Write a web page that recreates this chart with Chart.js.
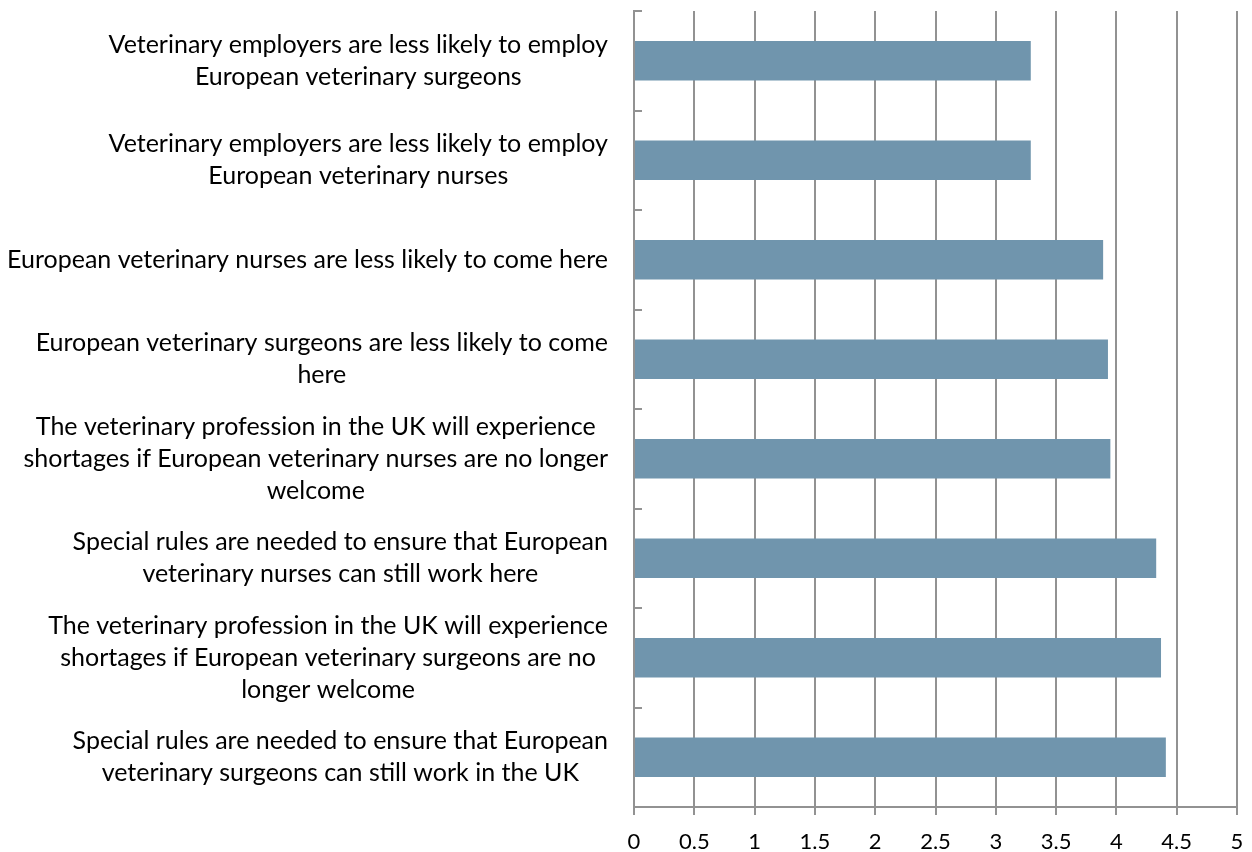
<!DOCTYPE html>
<html>
<head>
<meta charset="utf-8">
<script src="https://cdn.jsdelivr.net/npm/chart.js@4/dist/chart.umd.min.js"></script>
<style>
  html, body { margin: 0; padding: 0; background: #ffffff; }
  #wrap { width: 1252px; height: 852px; }
</style>
</head>
<body>
<div id="wrap"><canvas id="chart" width="1252" height="852"></canvas></div>
<script>
// Statements, each split into the lines it is printed on
const categories = [
  ["Veterinary employers are less likely to employ", "European veterinary surgeons"],
  ["Veterinary employers are less likely to employ", "European veterinary nurses"],
  ["European veterinary nurses are less likely to come here"],
  ["European veterinary surgeons are less likely to come", "here"],
  ["The veterinary profession in the UK will experience", "shortages if European veterinary nurses are no longer", "welcome"],
  ["Special rules are needed to ensure that European", "veterinary nurses can still work here"],
  ["The veterinary profession in the UK will experience", "shortages if European veterinary surgeons are no", "longer welcome"],
  ["Special rules are needed to ensure that European", "veterinary surgeons can still work in the UK"]
];

// Mean agreement score per statement
const scores = [3.29, 3.29, 3.89, 3.93, 3.95, 4.33, 4.37, 4.41];

// Value axis range
const axisMin = 0;
const axisMax = 5;
const axisStep = 0.5;

const FONT_FAMILY = "Lato, 'Open Sans', sans-serif";
const LABEL_SIZE = 25;
const TICK_SIZE = 22;
const LINE_GAP = 32;
const GRID = '#929292';

// Axis text: category blocks are centred on themselves and right-aligned against
// the value axis; value tick labels sit centred under each tick mark.
const axisText = {
  id: 'axisText',
  afterDraw(chart) {
    const ctx = chart.ctx;
    const yScale = chart.scales.y;
    const xScale = chart.scales.x;
    ctx.save();
    ctx.fillStyle = '#000000';
    ctx.textAlign = 'center';
    ctx.textBaseline = 'middle';

    ctx.font = LABEL_SIZE + 'px ' + FONT_FAMILY;
    categories.forEach((lines, i) => {
      const cy = yScale.getPixelForValue(i);
      const w = Math.max(...lines.map(l => ctx.measureText(l).width));
      const cx = yScale.right - 26 - w / 2;
      lines.forEach((line, j) => {
        ctx.fillText(line, cx, cy + (j - (lines.length - 1) / 2) * LINE_GAP);
      });
    });

    ctx.font = TICK_SIZE + 'px ' + FONT_FAMILY;
    xScale.ticks.forEach(t => {
      ctx.fillText(String(t.value), xScale.getPixelForValue(t.value), xScale.top + 35);
    });
    ctx.restore();
  }
};

new Chart(document.getElementById('chart'), {
  type: 'bar',
  data: {
    labels: categories,
    datasets: [{
      data: scores,
      backgroundColor: '#7095ad',
      borderWidth: 0,
      categoryPercentage: 1,
      barPercentage: 0.395
    }]
  },
  options: {
    indexAxis: 'y',
    responsive: false,
    animation: false,
    devicePixelRatio: 1,
    layout: { padding: { top: 11, right: 15, bottom: 0, left: 0 } },
    plugins: {
      legend: { display: false },
      tooltip: { enabled: false }
    },
    scales: {
      x: {
        min: axisMin,
        max: axisMax,
        afterFit(scale) { scale.height = 45; },
        ticks: { stepSize: axisStep, display: false },
        grid: { color: GRID, lineWidth: 2, tickLength: 8, tickColor: GRID },
        border: { color: GRID, width: 2 }
      },
      y: {
        afterFit(scale) { scale.width = 634; },
        ticks: { display: false },
        grid: {
          drawOnChartArea: false,
          drawTicks: true,
          tickLength: -8,
          color: GRID,
          lineWidth: 2
        },
        border: { color: GRID, width: 2 }
      }
    }
  },
  plugins: [axisText]
});
</script>
</body>
</html>
